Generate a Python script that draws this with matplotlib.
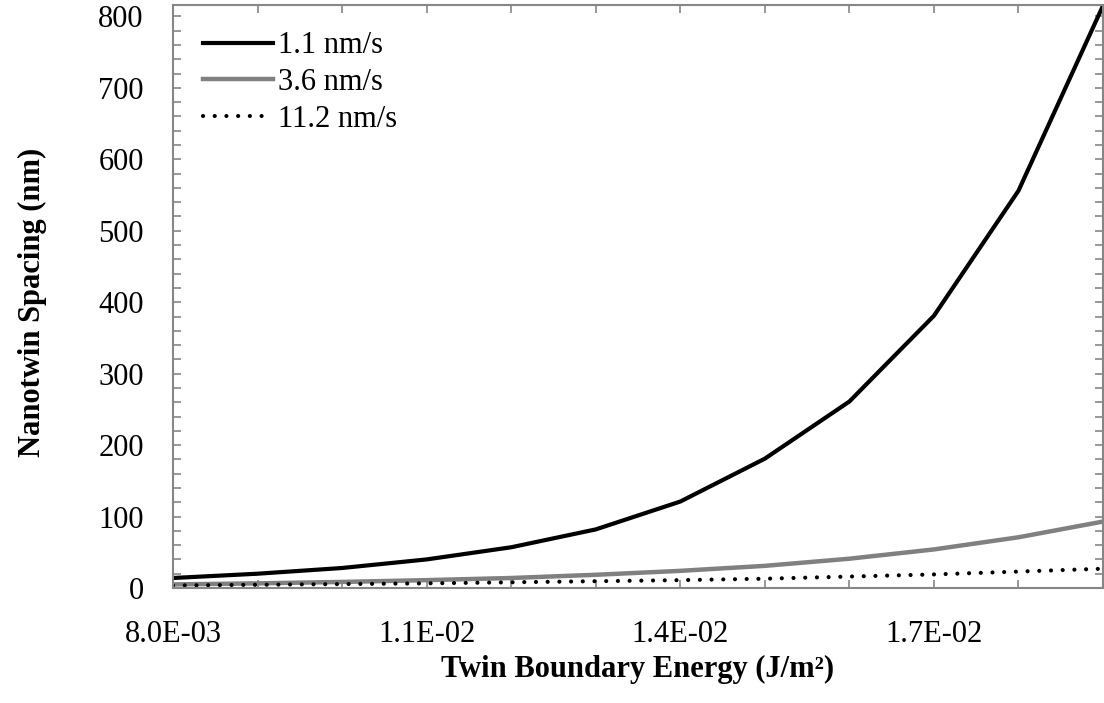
import matplotlib.pyplot as plt
from matplotlib.ticker import MultipleLocator, FuncFormatter

# twin boundary energy (J/m^2)
energy = [0.008, 0.009, 0.010, 0.011, 0.012, 0.013, 0.014, 0.015, 0.016, 0.017, 0.018, 0.019]
# nanotwin spacing (nm) for each deposition rate
rate_11 = [14, 20, 28, 40, 57, 82, 121, 181, 261, 381, 556, 815]
rate_36 = [5, 6.5, 8.5, 11, 14, 18.5, 24, 31, 41, 54, 71, 93]
rate_112 = [3.5, 4.5, 5.5, 6.5, 8, 9.5, 11, 13, 16, 19, 23, 27]
labels = ["1.1 nm/s", "3.6 nm/s", "11.2 nm/s"]
xticks = [0.008, 0.011, 0.014, 0.017]

plt.rcParams['font.family'] = ['Liberation Serif', 'DejaVu Serif']
gray = "#868686"

fig = plt.figure(figsize=(11.04, 7.03), dpi=100)
ax = fig.add_axes([173/1104, (703-588)/703, 930/1104, 583/703])

ax.plot(energy, rate_11, color="black", lw=3, label=labels[0], solid_joinstyle="round")
ax.plot(energy, rate_36, color="#808080", lw=3.2, label=labels[1], solid_joinstyle="round")
ax.plot(energy, rate_112, color="black", lw=3, linestyle=(0, (0.01, 2.8)),
        dash_capstyle="round", label=labels[2])

ax.set_xlim(0.008, 0.019)
ax.set_ylim(0, 816)
ax.set_xticks(xticks)
ax.xaxis.set_minor_locator(MultipleLocator(0.001))
ax.yaxis.set_major_locator(MultipleLocator(100))
ax.yaxis.set_minor_locator(MultipleLocator(20))
ax.xaxis.set_major_formatter(FuncFormatter(lambda v, p: "%.1E" % v))

for s in ax.spines.values():
    s.set_color(gray)
    s.set_linewidth(1.5)
ax.tick_params(which="both", direction="in", color=gray, width=1.2, length=6,
               top=True, right=True, labelsize=22)
ax.tick_params(axis="x", which="major", pad=23)
ax.tick_params(axis="y", which="major", pad=21)

ax.set_xlabel("Twin Boundary Energy (J/m²)", fontsize=22, fontweight="bold")
ax.set_ylabel("Nanotwin Spacing (nm)", fontsize=22, fontweight="bold")
ax.xaxis.set_label_coords(0.5, -0.115)
ax.yaxis.set_label_coords(-0.135, 0.49)

ax.legend(loc="upper left", frameon=False, fontsize=22, handlelength=2.3,
          handletextpad=0.15, labelspacing=0.25, borderpad=0, borderaxespad=0,
          bbox_to_anchor=(0.032, 0.955))

fig.savefig("out.png", dpi=100)
